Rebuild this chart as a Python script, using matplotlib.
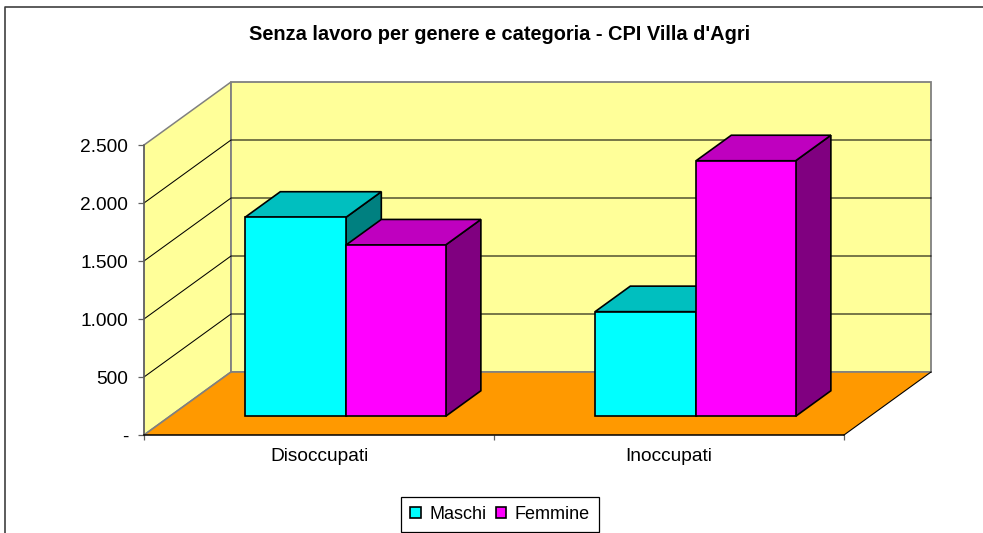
import matplotlib
matplotlib.use("Agg")
from matplotlib import pyplot as plt
from matplotlib.lines import Line2D
from matplotlib.patches import Patch, Polygon

categorie = ["Disoccupati", "Inoccupati"]
maschi = [1716, 902]
femmine = [1477, 2203]
tick_valori = [0, 500, 1000, 1500, 2000, 2500]
tick_etichette = ["-", "500", "1.000", "1.500", "2.000", "2.500"]

# oblique projection of the 3D box, depth 0 = front, 1 = back wall
DEPTH_X = 87 / 350
DEPTH_Y = 63 / 0.116
BAR_W_M = 0.2885
BAR_W_F = 0.2845
BAR_GAP = 0.215
D0 = 0.297
D1 = 0.702

plt.rcParams["font.family"] = ["Liberation Sans", "DejaVu Sans"]
W, H = 983, 533


def proj(x, v, d):
    return (x + d * DEPTH_X, v + d * DEPTH_Y)


def poly(ax, pts, color, edge="black", lw=1.2, z=2):
    pts = [proj(*p) for p in pts]
    ax.add_patch(Polygon(pts, closed=True, facecolor=color, edgecolor=edge,
                         linewidth=lw, clip_on=False, zorder=z, joinstyle="miter"))


def barra(ax, x, w, v, front, top, side, z):
    x2 = x + w
    poly(ax, [(x2, 0, D0), (x2, 0, D1), (x2, v, D1), (x2, v, D0)], side, z=z)
    poly(ax, [(x, v, D0), (x2, v, D0), (x2, v, D1), (x, v, D1)], top, z=z)
    poly(ax, [(x, 0, D0), (x2, 0, D0), (x2, v, D0), (x, v, D0)], front, z=z)


fig = plt.figure(figsize=(W / 100, H / 100), dpi=100, facecolor="white")
ax = fig.add_axes([144 / W, 1 - 435 / H, 700 / W, 290 / H])
ax.set_xlim(0, 2)
ax.set_ylim(0, 2500)
ax.patch.set_visible(False)

# walls and floor
grigio = "#808080"
poly(ax, [(0, 0, 0), (0, 2500, 0), (0, 2500, 1), (0, 0, 1)], "#FFFF99", grigio, 1.1, 1)
poly(ax, [(0, 0, 1), (0, 2500, 1), (2, 2500, 1), (2, 0, 1)], "#FFFF99", grigio, 1.3, 1)
poly(ax, [(0, 0, 0), (2, 0, 0), (2, 0, 1), (0, 0, 1)], "#FF9900", "none", 0, 1.1)

for v in tick_valori[1:-1]:
    a = proj(0, v, 0)
    b = proj(0, v, 1)
    c = proj(2, v, 1)
    ax.plot([a[0], b[0], c[0]], [a[1], b[1], c[1]], color="black", lw=0.75,
            clip_on=False, zorder=1.5)

# floor edges, on top of the walls
for p, q, col, lw in [((0, 0, 0), (0, 0, 1), grigio, 1.2), ((0, 0, 1), (2, 0, 1), grigio, 1.2),
                      ((2, 0, 0), (2, 0, 1), "black", 0.8)]:
    a, b = proj(*p), proj(*q)
    ax.plot([a[0], b[0]], [a[1], b[1]], color=col, lw=lw, clip_on=False, zorder=1.6)

for i in range(len(categorie)):
    barra(ax, i + BAR_GAP, BAR_W_M, maschi[i], "#00FFFF", "#00BFBF", "#008080", 3 + i)
    barra(ax, i + BAR_GAP + BAR_W_M, BAR_W_F, femmine[i], "#FF00FF", "#BF00BF", "#800080", 3.5 + i)

for s in ["top", "right"]:
    ax.spines[s].set_visible(False)
ax.spines["left"].set_color("#606060")
ax.spines["left"].set_linewidth(1.1)
ax.spines["bottom"].set_color("black")
ax.spines["bottom"].set_linewidth(1.1)
ax.spines["left"].set_zorder(2)
ax.spines["bottom"].set_zorder(2)

ax.set_yticks(tick_valori)
ax.set_yticklabels(tick_etichette, fontsize=13.8, color="black")
ax.tick_params(axis="y", length=4.3, width=0.9, color="#606060", pad=7)
ax.set_xticks([0, 1, 2])
ax.set_xticklabels([])
ax.tick_params(axis="x", which="major", length=3.6, width=0.9, color="#606060")
ax.set_xticks([0.5, 1.5], minor=True)
ax.set_xticklabels(categorie, minor=True, fontsize=13.8)
ax.tick_params(axis="x", which="minor", length=0, pad=9.5)

fig.text(500 / W, 1 - 34 / H, "Senza lavoro per genere e categoria - CPI Villa d'Agri",
         ha="center", va="center", fontsize=14.4, fontweight="bold")

handles = [Patch(facecolor="#00FFFF", edgecolor="black", linewidth=1.2, label="Maschi"),
           Patch(facecolor="#FF00FF", edgecolor="black", linewidth=1.2, label="Femmine")]
leg = fig.legend(handles=handles, ncol=2, loc="center", fontsize=13,
                 bbox_to_anchor=(500 / W, 1 - 514.5 / H), frameon=True, fancybox=False,
                 edgecolor="black", framealpha=1, handlelength=0.6, handleheight=0.6,
                 handletextpad=0.45, columnspacing=0.5, borderpad=0.5, borderaxespad=0)
leg.get_frame().set_linewidth(0.9)

# chart area border, only the left and top sides are inside the picture
fig.add_artist(Line2D([5 / W, 5 / W, 1], [0, 1 - 6.5 / H, 1 - 6.5 / H],
                      color="#404040", lw=1.2, transform=fig.transFigure))

plt.savefig("out.png", dpi=100)
